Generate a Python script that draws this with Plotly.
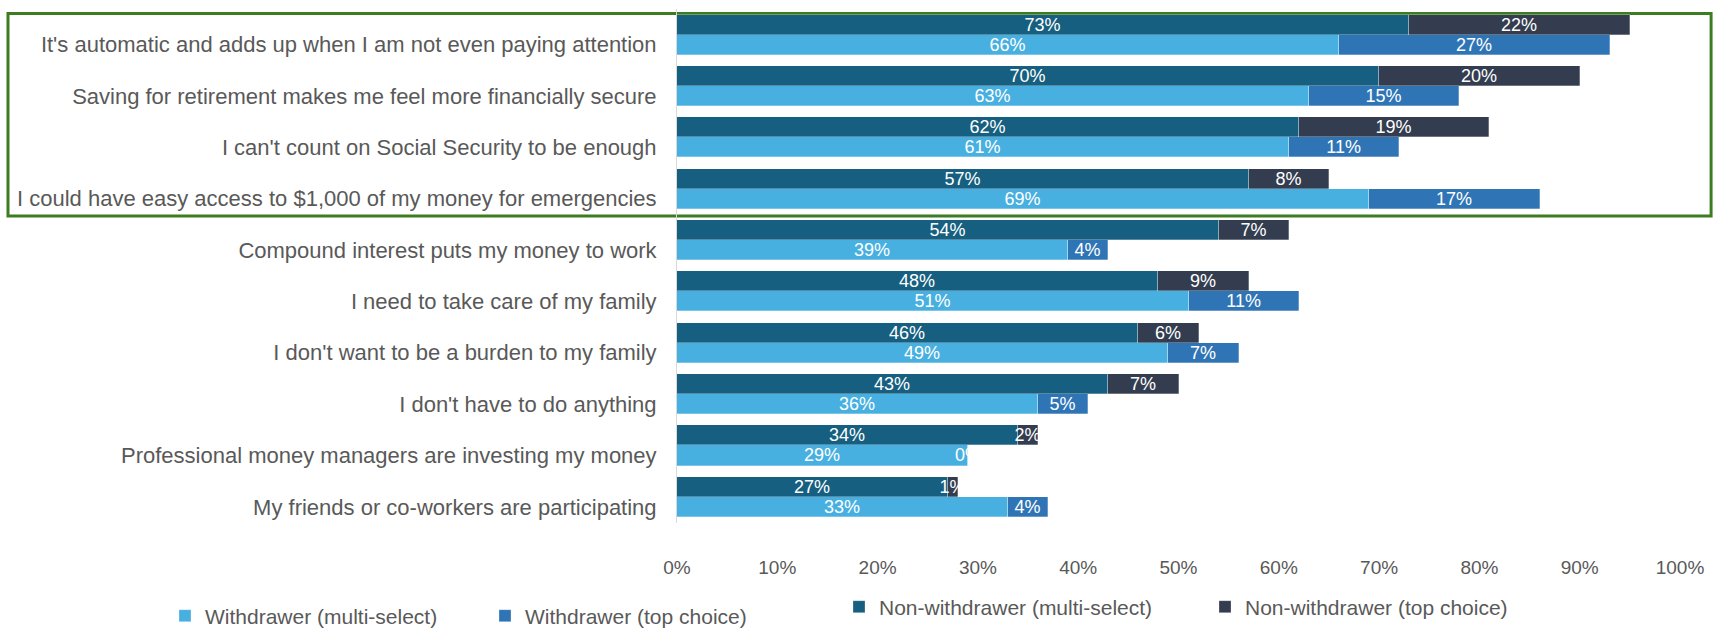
import plotly.graph_objects as go

# Reasons for saving, listed top to bottom
reasons = [
    "It's automatic and adds up when I am not even paying attention",
    "Saving for retirement makes me feel more financially secure",
    "I can't count on Social Security to be enough",
    "I could have easy access to $1,000 of my money for emergencies",
    "Compound interest puts my money to work",
    "I need to take care of my family",
    "I don't want to be a burden to my family",
    "I don't have to do anything",
    "Professional money managers are investing my money",
    "My friends or co-workers are participating",
]

# Percent of respondents citing each reason
non_withdrawer_multi = [73, 70, 62, 57, 54, 48, 46, 43, 34, 27]
non_withdrawer_top = [22, 20, 19, 8, 7, 9, 6, 7, 2, 1]
withdrawer_multi = [66, 63, 61, 69, 39, 51, 49, 36, 29, 33]
withdrawer_top = [27, 15, 11, 17, 4, 11, 7, 5, 0, 4]

x_ticks = [0, 10, 20, 30, 40, 50, 60, 70, 80, 90, 100]

C_NW_MULTI = "#175F80"
C_NW_TOP = "#333D4F"
C_W_MULTI = "#48B0E0"
C_W_TOP = "#2F75B6"
TEXT_GREY = "#595959"
FONT = "Liberation Sans, Arial, sans-serif"
VALUE_FONT = dict(color="white", size=18, family=FONT)

BAR_W = 0.39
OFF = BAR_W / 2
idx = list(range(len(reasons)))
y_top = [i - OFF for i in idx]      # non-withdrawer row
y_bot = [i + OFF for i in idx]      # withdrawer row


def bar(vals, ys, color, name, legend):
    return go.Bar(
        x=vals,
        y=ys,
        orientation="h",
        width=BAR_W,
        name=name,
        legend=legend,
        marker=dict(color=color, line=dict(color="rgba(255,255,255,0.35)", width=0.8)),
        text=[f"{v}%" for v in vals],
        textposition="inside",
        insidetextanchor="middle",
        textangle=0,
        constraintext="none",
        textfont=VALUE_FONT,
        hoverinfo="skip",
    )


fig = go.Figure()
fig.add_trace(bar(withdrawer_multi, y_bot, C_W_MULTI, "Withdrawer (multi-select)", "legend"))
fig.add_trace(bar(withdrawer_top, y_bot, C_W_TOP, "Withdrawer (top choice)", "legend"))
fig.add_trace(bar(non_withdrawer_multi, y_top, C_NW_MULTI, "Non-withdrawer (multi-select)", "legend2"))
fig.add_trace(bar(non_withdrawer_top, y_top, C_NW_TOP, "Non-withdrawer (top choice)", "legend2"))

# Zero-width segments still carry their label, centred on the end of the stack
for base_vals, top_vals, ys in (
    (withdrawer_multi, withdrawer_top, y_bot),
    (non_withdrawer_multi, non_withdrawer_top, y_top),
):
    for b, t, y in zip(base_vals, top_vals, ys):
        if t == 0:
            fig.add_annotation(
                x=b + t, y=y, xref="x", yref="y",
                text=f"{t}%", showarrow=False,
                xanchor="center", yanchor="middle",
                font=VALUE_FONT,
            )

# Highlight box around the first four reasons
fig.add_shape(
    type="rect",
    xref="paper", yref="y",
    x0=-0.667, x1=1.031,
    y0=-0.41, y1=3.53,
    line=dict(color="#3C7D22", width=3),
    fillcolor="rgba(0,0,0,0)",
    layer="below",
)

legend_common = dict(
    orientation="h",
    xref="container", yref="container",
    yanchor="middle", xanchor="left",
    font=dict(size=21, color=TEXT_GREY, family=FONT),
    bgcolor="rgba(0,0,0,0)",
    entrywidthmode="pixels",
    itemwidth=30,
    tracegroupgap=0,
    traceorder="normal",
)

fig.update_layout(
    width=1723,
    height=629,
    barmode="stack",
    bargap=0,
    plot_bgcolor="white",
    paper_bgcolor="white",
    margin=dict(l=677, r=43, t=9, b=91),
    font=dict(family=FONT, color=TEXT_GREY),
    showlegend=True,
    legend=dict(legend_common, x=165 / 1723, y=1 - 616 / 629, entrywidth=275),
    legend2=dict(legend_common, x=839 / 1723, y=1 - 607 / 629, entrywidth=321),
    xaxis=dict(
        range=[0, 100],
        tickvals=x_ticks,
        ticktext=[f"{t}%" for t in x_ticks],
        showgrid=False,
        zeroline=False,
        showline=False,
        ticks="",
        ticklabelstandoff=31,
        tickfont=dict(size=19, color=TEXT_GREY, family=FONT),
        fixedrange=True,
    ),
    yaxis=dict(
        range=[len(reasons) - 0.5, -0.5],
        tickvals=y_bot,
        ticktext=reasons,
        showgrid=False,
        zeroline=False,
        showline=True,
        linecolor="#D9D9D9",
        linewidth=1,
        ticks="",
        ticklabelstandoff=15,
        tickfont=dict(size=22, color=TEXT_GREY, family=FONT),
        fixedrange=True,
    ),
)

fig.write_html("out.html")
